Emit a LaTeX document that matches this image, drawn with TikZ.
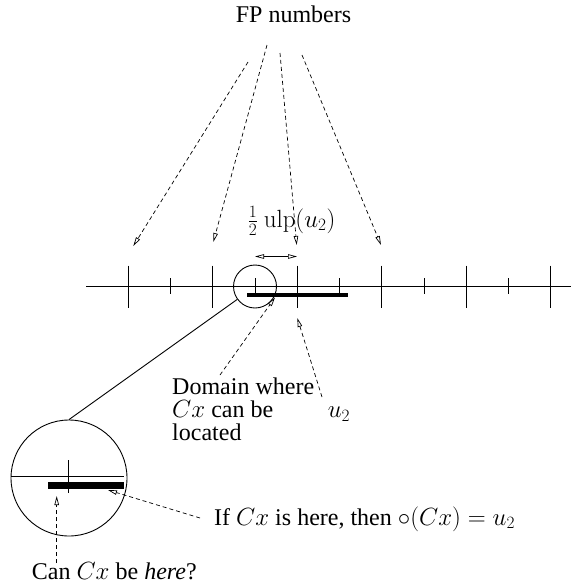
\documentclass[tikz,border=0pt]{standalone}
\usepackage[no-math]{fontspec}
\setmainfont{Liberation Serif}
\usetikzlibrary{arrows.meta}
\begin{document}
\begin{tikzpicture}[x=1pt,y=-1pt,
  dsh/.style={dash pattern=on 4pt off 3pt, line width=0.7pt, -{Triangle[open,length=9pt,width=4.5pt]}},
  ln/.style={line width=0.9pt},
  thick bar/.style={line width=#1},
  lbl/.style={font=\fontsize{24}{23}\selectfont, inner sep=0pt},
  ring/.style={circle, draw, line width=0.9pt, inner sep=0pt},
 ]
\useasboundingbox (0,0) rectangle (571,584);
% axis
\draw[ln] (86,286) -- (571,286);
\foreach \x in {128,212.5,297,381.5,466,550.5} \draw[ln] (\x,265.5) -- (\x,307.5);
\foreach \x in {170,255,339.5,424,508} \draw[ln] (\x,278) -- (\x,294);
\draw[thick bar=4pt] (247,295) -- (348,295);
\node[ring, minimum size=43pt] (sc) at (255,286.5) {};
% half ulp
\coordinate (ha) at (255,256.5);
\coordinate (hb) at (297,256.5);
\draw[line width=0.7pt, {Triangle[open,length=9pt,width=4.5pt]}-{Triangle[open,length=9pt,width=4.5pt]}] (ha) -- (hb);
\node[lbl] (ulp) at (291.5,221) {$\frac{1}{2}\ \mathrm{ulp}(u_2)$};
% FP numbers
\node[lbl, anchor=base] (fp) at (293.5,22.7) {FP numbers};
\coordinate (f1) at (248,62);  \coordinate (g1) at (133.3,246);
\coordinate (f2) at (267,45);  \coordinate (g2) at (213.3,242);
\coordinate (f3) at (280,53);  \coordinate (g3) at (296.7,245);
\coordinate (f4) at (302,55);  \coordinate (g4) at (381,245);
\draw[dsh] (f1) -- (g1);
\draw[dsh] (f2) -- (g2);
\draw[dsh] (f3) -- (g3);
\draw[dsh] (f4) -- (g4);
% domain text
\node[lbl, anchor=north west, align=left] (dom) at (172,378) {Domain where\\$Cx$ can be\\located};
\coordinate (d1) at (220,375); \coordinate (d2) at (275,297.5);
\draw[dsh] (d1) -- (d2);
\node[lbl] (u2) at (339,414) {$u_2$};
\coordinate (e1) at (322,397); \coordinate (e2) at (297.3,318);
\draw[dsh] (e1) -- (e2);
% zoom circle
\node[ring, minimum size=116pt] (bc) at (69,478) {};
\draw[ln] (sc.216) -- (bc.90);
\draw[ln] (11,476.5) -- (124,476.5);
\draw[ln] (68.5,460) -- (68.5,493);
\draw[thick bar=7pt] (48,485.5) -- (124,485.5);
% can Cx be here
\node[lbl, anchor=base west] (can) at (31.7,579.5) {Can $Cx$ be \emph{here}?};
\coordinate (c1) at (56.7,563); \coordinate (c2) at (56.7,496);
\draw[dsh] (c1) -- (c2);
% if Cx is here
\node[lbl, anchor=base west] (ifc) at (214,525) {If $Cx$ is here, then $\circ(Cx) = u_2$};
\coordinate (i1) at (200,518); \coordinate (i2) at (108,490);
\draw[dsh] (i1) -- (i2);
\end{tikzpicture}
\end{document}
